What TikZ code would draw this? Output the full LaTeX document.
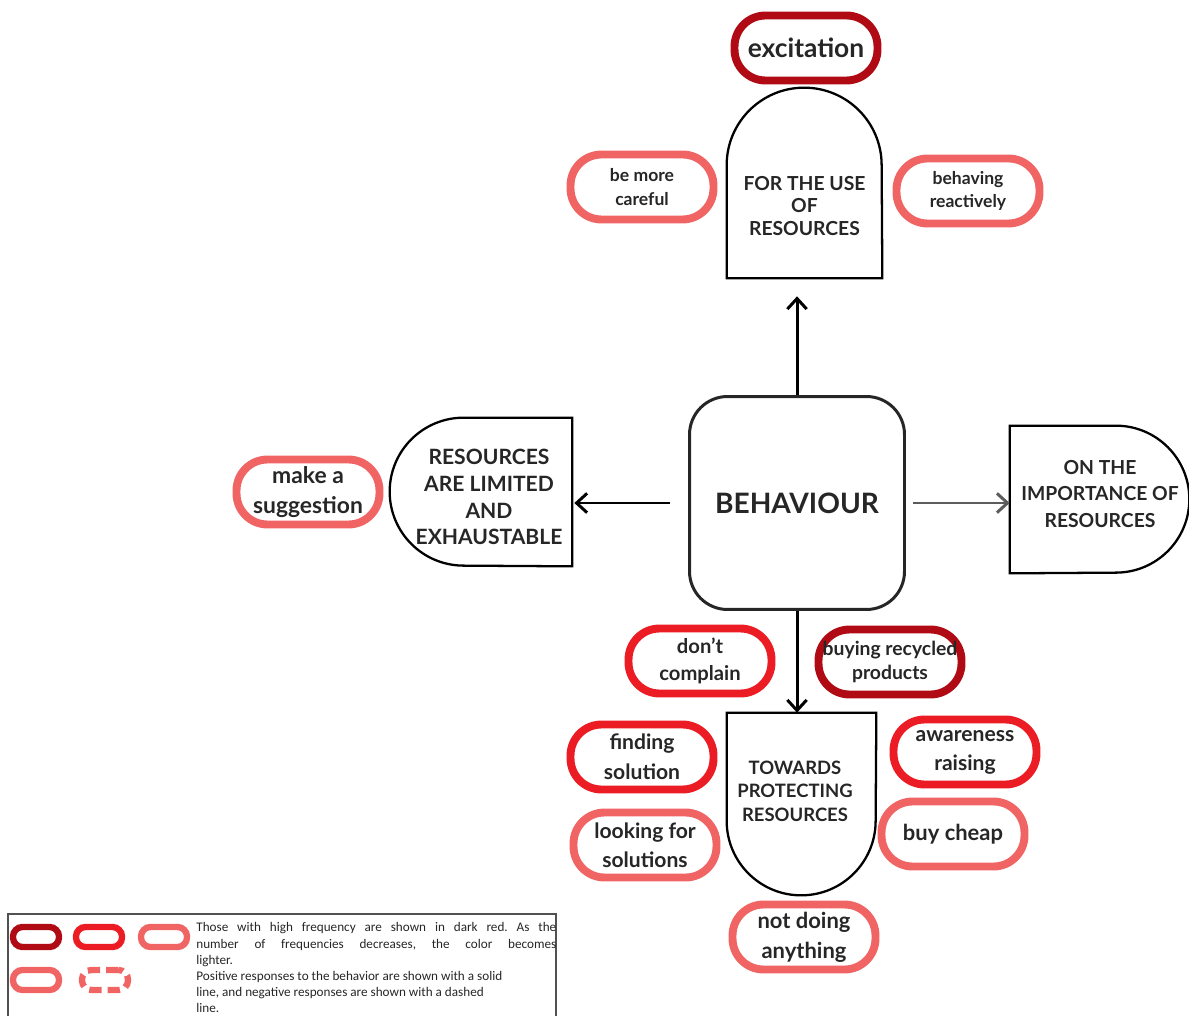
\documentclass[tikz,border=0pt]{standalone}
\usepackage{fontspec}
\setmainfont{Lato}
\newfontfamily\legendfont{Carlito}
\usetikzlibrary{arrows.meta}
\frenchspacing
\definecolor{darkred}{HTML}{B00A14}
\definecolor{midred}{HTML}{EC1C24}
\definecolor{lightred}{HTML}{F06464}
\definecolor{ink}{HTML}{262626}
\tikzstyle{pill}=[draw,rectangle,rounded corners=0.62cm,line width=4.5pt,minimum width=2.86cm,minimum height=1.30cm,inner sep=0pt,align=center,text=ink]
\tikzstyle{legpill}=[draw,rectangle,rounded corners=0.19cm,line width=3.6pt,minimum width=0.92cm,minimum height=0.40cm,inner sep=0pt]
\tikzstyle{shapebox}=[draw=none,rectangle,inner sep=0pt]
\tikzstyle{shapeline}=[draw=black,line width=1.3pt]
\tikzstyle{boxtext}=[align=center,text=ink,inner sep=0pt]
\tikzstyle{arr}=[line width=1.7pt,-{Straight Barb[length=6pt,width=11pt]}]

\begin{document}
\begin{tikzpicture}[x=0.02cm,y=-0.02cm]
\useasboundingbox (0,0) rectangle (1189,1016);
  % centre
  \node[draw=ink,line width=1.7pt,rounded corners=0.76cm,minimum width=4.3cm,minimum height=4.26cm,
        boxtext,font=\fontsize{16}{19}\selectfont\bfseries] (beh) at (797,503) {BEHAVIOUR};
  % the four shaped boxes
  \node[shapebox,minimum width=3.1cm,minimum height=3.8cm] (use) at (804.5,183) {};
  \node[shapebox,minimum width=3.64cm,minimum height=2.96cm] (lim) at (481,492) {};
  \node[shapebox,minimum width=3.58cm,minimum height=2.94cm] (imp) at (1099.5,499.5) {};
  \node[shapebox,minimum width=2.98cm,minimum height=3.64cm] (tow) at (801.5,804) {};
  \draw[shapeline] (use.south west) -- ([yshift=-1.55cm]use.north west)
     arc[start angle=180,end angle=0,radius=1.55cm] -- (use.south east) -- cycle;
  \draw[shapeline] (lim.north east) -- ([xshift=1.48cm]lim.north west)
     arc[start angle=90,end angle=270,radius=1.48cm] -- (lim.south east) -- cycle;
  \draw[shapeline] (imp.north west) -- ([xshift=-1.47cm]imp.north east)
     arc[start angle=90,end angle=-90,radius=1.47cm] -- (imp.south west) -- cycle;
  \draw[shapeline] (tow.north west) -- ([yshift=1.49cm]tow.south west)
     arc[start angle=180,end angle=360,radius=1.49cm] -- (tow.north east) -- cycle;
  \node[boxtext,font=\fontsize{11}{12.8}\selectfont\bfseries] (usetxt) at (804.5,206) {FOR THE USE\\OF\\RESOURCES};
  \node[boxtext,font=\fontsize{12}{15.3}\selectfont\bfseries] (limtxt) at (489,497) {RESOURCES\\ARE LIMITED\\AND\\EXHAUSTABLE};
  \node[boxtext,font=\fontsize{11}{15.3}\selectfont\bfseries] (imptxt) at (1100,494) {ON THE\\IMPORTANCE OF\\RESOURCES};
  \node[boxtext,font=\fontsize{10.5}{13.3}\selectfont\bfseries] (towtxt) at (795,791) {TOWARDS\\PROTECTING\\RESOURCES};
  % arrows
  \draw[arr,shorten >=0.36cm] (beh.north) -- (beh.north |- use.south);
  \draw[arr,shorten <=0.36cm,shorten >=0.04cm] (beh.west) -- (beh.west -| lim.east);
  \draw[arr,draw=ink!75,shorten <=0.14cm] (beh.east) -- (beh.east -| imp.west);
  \draw[arr] (beh.south) -- (beh.south |- tow.north);
  % responses
  \foreach \place/\name/\col/\fs/\bs/\txt in {{(806,48)/exc/darkred/15/18/excitation},
                            {(642,187)/care/lightred/10/13.6/{be more\\careful}},
                            {(968,191)/react/lightred/10/13.6/{behaving\\reactively}},
                            {(308,492)/sugg/lightred/13/17/{make a\\suggestion}},
                            {(700,661)/compl/midred/11.5/15.3/{don’t\\complain}},
                            {(890,662)/recyc/darkred/11/13.6/{buying recycled\\products}},
                            {(642,757)/find/midred/12/17/{finding\\solution}},
                            {(965,752)/aware/midred/12/16.5/{awareness\\raising}},
                            {(645,845)/look/lightred/12/16.5/{looking for\\solutions}},
                            {(953,834)/cheap/lightred/12.5/15/{buy cheap}},
                            {(804,937)/nothing/lightred/12.5/17/{not doing\\anything}}}
    \node[pill,draw=\col,font=\fontsize{\fs}{\bs}\selectfont\bfseries] (\name) at \place {\txt};
  % legend
  \draw[draw=ink!80,line width=1.1pt] (8,914) rectangle (556,1030);
  \foreach \place/\name/\col in {{(36,937)/ldark/darkred},
                                 {(99,937)/lmid/midred},
                                 {(164,937)/llight/lightred},
                                 {(36,980)/lsolid/lightred}}
    \node[legpill,draw=\col] (\name) at \place {};
  \node[legpill,draw=lightred,dash pattern=on 7pt off 3.5pt] (ldash) at (105,980) {};
  \node[anchor=north west,text width=7.2cm,align=justify,inner sep=0pt,text=ink,
        font=\legendfont\fontsize{7.5}{9.4}\selectfont] (legtop) at (196,922)
        {Those with high frequency are shown in dark red. As the\linebreak number of frequencies decreases, the color becomes\linebreak lighter.};
  \node[anchor=north west,align=left,inner sep=0pt,text=ink,
        font=\legendfont\fontsize{7.5}{9}\selectfont] (legbot) at (196,971)
        {Positive responses to the behavior are shown with a solid\\line, and negative responses are shown with a dashed\\line.};
\end{tikzpicture}
\end{document}
